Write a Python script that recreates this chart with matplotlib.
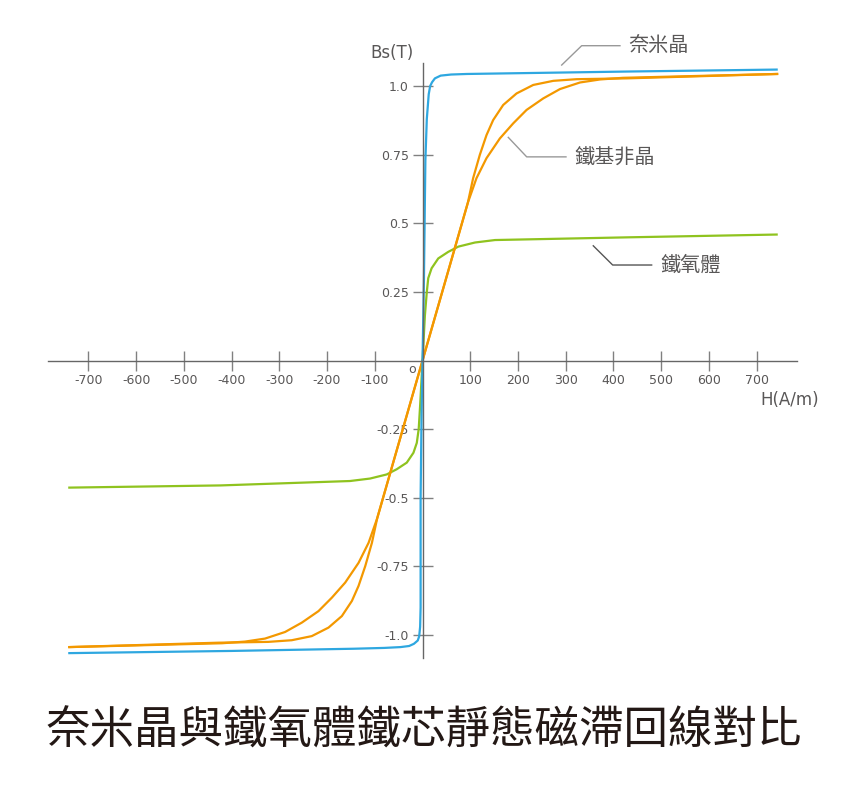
import numpy as np
import matplotlib
matplotlib.use('Agg')
import matplotlib.pyplot as plt

plt.rcParams['font.family'] = ['DejaVu Sans', 'Noto Sans CJK TC']

# 奈米晶 (blue)
nano_h = [-740, -400, -144, -80, -46, -28, -18, -10, -7, -5, -4, -4, -2, 0, 3, 6, 9, 13, 16, 20, 26, 38, 60, 93, 435, 742]
nano_b = [-1.066, -1.058, -1.05, -1.047, -1.044, -1.04, -1.032, -1.02, -1.005, -0.97, -0.9, -0.5, -0.2, 0.0, 0.3, 0.73, 0.88, 0.97, 1.0, 1.014, 1.028, 1.038, 1.042, 1.044, 1.053, 1.06]

# 鐵基非晶 (orange), descending branch
amor_dn_h = [-740, -420, -372, -330, -288, -253, -218, -190, -162, -134, -113, -95, 0, 95, 106, 120, 134, 148, 169, 197, 232, 274, 323, 428, 743]
amor_dn_b = [-1.044, -1.03, -1.024, -1.013, -0.989, -0.955, -0.913, -0.864, -0.809, -0.737, -0.664, -0.575, 0.0, 0.575, 0.664, 0.749, 0.821, 0.876, 0.931, 0.973, 1.004, 1.019, 1.025, 1.028, 1.044]
# ascending branch
amor_up_h = [-740, -428, -323, -274, -232, -197, -169, -148, -134, -120, -106, -95, 0, 95, 113, 134, 162, 190, 218, 253, 288, 330, 372, 420, 743]
amor_up_b = [-1.044, -1.028, -1.025, -1.019, -1.004, -0.973, -0.931, -0.876, -0.821, -0.749, -0.664, -0.575, 0.0, 0.575, 0.664, 0.737, 0.809, 0.864, 0.913, 0.955, 0.989, 1.013, 1.024, 1.03, 1.044]

# 鐵氧體 (green)
ferr_h = [-740, -423, -152, -110, -75, -54, -33, -19, -12, -8, -5, 0, 5, 9, 12, 19, 33, 54, 75, 110, 152, 435, 742]
ferr_b = [-0.463, -0.455, -0.439, -0.43, -0.415, -0.396, -0.372, -0.336, -0.30, -0.25, -0.164, 0.0, 0.164, 0.25, 0.30, 0.336, 0.372, 0.396, 0.415, 0.43, 0.439, 0.449, 0.459]

x_ticks = [-700, -600, -500, -400, -300, -200, -100, 100, 200, 300, 400, 500, 600, 700]
y_ticks = [-1.0, -0.75, -0.5, -0.25, 0.25, 0.5, 0.75, 1.0]
y_labels = ['-1.0', '-0.75', '-0.5', '-0.25', '0.25', '0.5', '0.75', '1.0']

blue = '#2ea7e0'
orange = '#f39800'
green = '#8fc31f'
gray = '#595757'

fig = plt.figure(figsize=(8.48, 8.01), dpi=100)
ax = fig.add_axes([0.057, 0.1781, 0.8825, 0.7436])

ax.plot(ferr_h, ferr_b, color=green, lw=1.6)
ax.plot(amor_dn_h, amor_dn_b, color=orange, lw=1.6)
ax.plot(amor_up_h, amor_up_b, color=orange, lw=1.6)
ax.plot(nano_h, nano_b, color=blue, lw=1.6)

ax.set_xlim(-784, 784)
ax.set_ylim(-1.085, 1.085)

for s in ['top', 'right']:
    ax.spines[s].set_visible(False)
for s in ['left', 'bottom']:
    ax.spines[s].set_position('zero')
    ax.spines[s].set_color('#666666')
    ax.spines[s].set_linewidth(1.0)

ax.set_xticks(x_ticks)
ax.set_xticklabels([str(v) for v in x_ticks])
ax.set_yticks(y_ticks)
ax.set_yticklabels(y_labels)
ax.tick_params(axis='both', direction='inout', length=14, width=1.0,
               color='#808080', labelcolor=gray, labelsize=9)
ax.tick_params(axis='x', pad=3)
ax.tick_params(axis='y', pad=3)

ax.text(-22.6, -0.032, 'o', ha='center', va='center', fontsize=9, color=gray)

fig.text(392 / 848, 1 - 53 / 801, 'Bs(T)', ha='center', va='center', fontsize=12, color=gray)
fig.text(790 / 848, 1 - 400 / 801, 'H(A/m)', ha='center', va='center', fontsize=12, color=gray)

# 標註線
notes = [
    ('奈米晶', [291.6, 333.5, 413.7], [1.0765, 1.147, 1.147], 431, '#999999'),
    ('鐵基非晶', [179.7, 218.3, 300.6], [0.813, 0.742, 0.742], 318, '#999999'),
    ('鐵氧體', [357.8, 398.4, 480.1], [0.418, 0.348, 0.348], 497.6, '#555555'),
]
for name, lx, ly, tx, c in notes:
    ax.plot(lx, ly, color=c, lw=1.0, clip_on=False)
    ax.text(tx, ly[-1], name, ha='left', va='center', fontsize=14.5, color=gray,
            family=['Noto Sans CJK TC'], clip_on=False)

fig.text(0.5, 1 - 731 / 801, '奈米晶與鐵氧體鐵芯靜態磁滯回線對比', ha='center', va='center',
         fontsize=32, color='#231815', family=['Noto Sans CJK TC'])

fig.savefig('out.png', dpi=100)
